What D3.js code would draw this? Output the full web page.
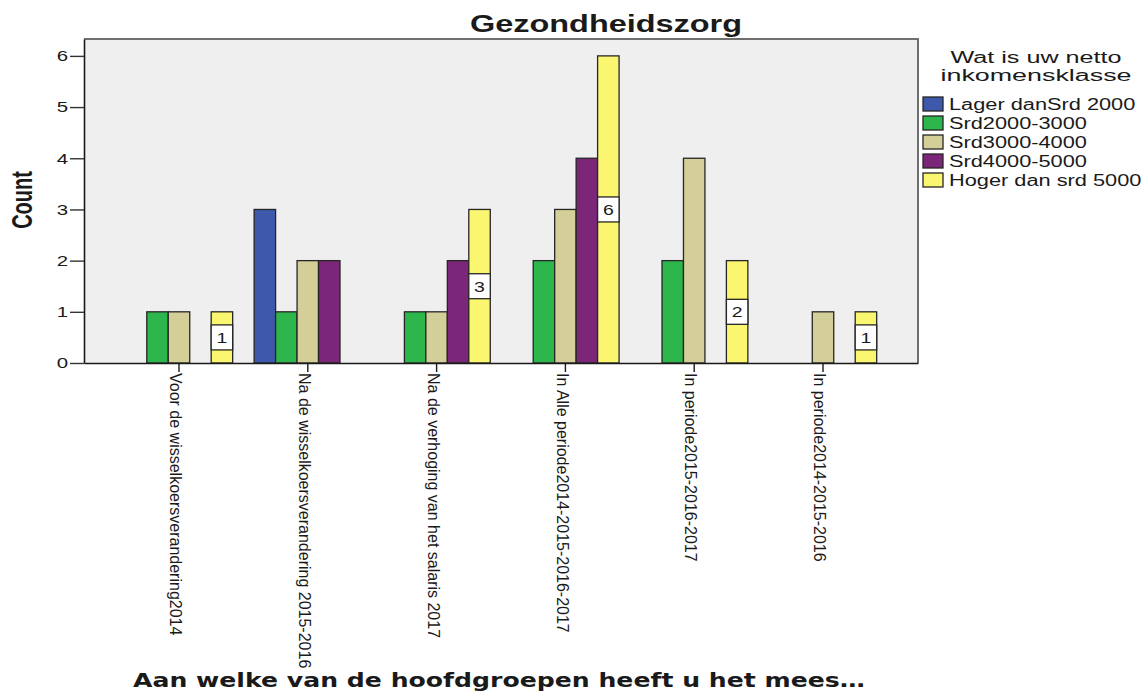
<!DOCTYPE html>
<html>
<head>
<meta charset="utf-8" />
<title>Gezondheidszorg</title>
<style>
  body { margin: 0; background: #fff; }
  svg { display: block; }
  text { font-family: "Liberation Sans", Arial, sans-serif; fill: #1a1a1a; }
  .bar { stroke: #262626; stroke-width: 1.3px; }
</style>
</head>
<body>
<svg width="1142" height="694"></svg>
<script src="https://cdn.jsdelivr.net/npm/d3@7"></script>
<script>

  // categories on the x axis
  var categories = [
    "Voor de wisselkoersverandering2014",
    "Na de wisselkoersverandering 2015-2016",
    "Na de verhoging van het salaris 2017",
    "In Alle periode2014-2015-2016-2017",
    "In periode2015-2016-2017",
    "In periode2014-2015-2016"
  ];

  // legend entries (income classes)
  var seriesNames = ["Lager danSrd 2000", "Srd2000-3000", "Srd3000-4000", "Srd4000-5000", "Hoger dan srd 5000"];

  // counts per income class, one value per category
  var lagerDan2000 = [0, 3, 0, 0, 0, 0];
  var srd2000to3000 = [1, 1, 1, 2, 2, 0];
  var srd3000to4000 = [1, 2, 1, 3, 4, 1];
  var srd4000to5000 = [0, 2, 2, 4, 0, 0];
  var hogerDan5000 = [1, 0, 3, 6, 2, 1];

  var yTicks = [0, 1, 2, 3, 4, 5, 6];

  var seriesValues = [lagerDan2000, srd2000to3000, srd3000to4000, srd4000to5000, hogerDan5000];
  var colors = ["#3e58ac", "#2db64b", "#d4ce98", "#7b2679", "#fbf66f"];

  var svg = d3.select("svg");

  // SPSS output looks horizontally stretched, so text is widened a bit
  function widen(sel, k) {
    sel.attr("lengthAdjust", "spacingAndGlyphs")
      .attr("textLength", function () { return this.getComputedTextLength() * k; });
  }

  // plot area edges (don't use "top" - it clashes with window.top)
  var plotL = 84, plotR = 918, plotT = 39, plotB = 363;

  var x0 = d3.scaleBand()
    .domain(categories)
    .range([plotL, plotR])
    .paddingOuter(0.2375)
    .paddingInner(0);

  var x1 = d3.scaleBand()
    .domain(seriesNames)
    .range([0, x0.bandwidth()])
    .paddingOuter(0.5)
    .paddingInner(0);

  var y = d3.scaleLinear()
    .domain([0, 6.33])
    .range([plotB, plotT]);

  // plot background + frame
  svg.append("rect")
    .attr("x", plotL).attr("y", plotT)
    .attr("width", plotR - plotL).attr("height", plotB - plotT)
    .attr("fill", "#efefef");

  svg.append("path")
    .attr("d", "M" + plotL + "," + plotT + "H" + plotR + "V" + plotB)
    .attr("fill", "none")
    .attr("stroke", "#6e6e6e")
    .attr("stroke-width", 2);

  // build flat list of bars
  var bars = [];
  categories.forEach(function (c, ci) {
    seriesNames.forEach(function (s, si) {
      var v = seriesValues[si][ci];
      if (v > 0) bars.push({ cat: c, series: s, si: si, value: v });
    });
  });

  svg.append("g")
    .selectAll("rect")
    .data(bars)
    .enter()
    .append("rect")
    .attr("class", "bar")
    .attr("x", function (d) { return x0(d.cat) + x1(d.series); })
    .attr("y", function (d) { return y(d.value); })
    .attr("width", x1.bandwidth())
    .attr("height", function (d) { return y(0) - y(d.value); })
    .attr("fill", function (d) { return colors[d.si]; });

  // value labels (only on the last series, as in the output)
  var labelled = bars.filter(function (d) { return d.si === seriesNames.length - 1; });

  var lab = svg.append("g")
    .selectAll("g")
    .data(labelled)
    .enter()
    .append("g")
    .attr("transform", function (d) {
      return "translate(" + (x0(d.cat) + x1(d.series)) + "," + (y(d.value / 2)) + ")";
    });

  lab.append("rect")
    .attr("x", 0)
    .attr("y", -12.5)
    .attr("width", x1.bandwidth())
    .attr("height", 25)
    .attr("fill", "#fff")
    .attr("stroke", "#262626")
    .attr("stroke-width", 1.3);

  lab.append("text")
    .attr("x", x1.bandwidth() / 2)
    .attr("dy", "0.36em")
    .attr("text-anchor", "middle")
    .style("font-size", "15px")
    .text(function (d) { return d.value; })
    .call(widen, 1.3);

  // y axis
  var yAxis = svg.append("g")
    .attr("transform", "translate(" + plotL + ",0)")
    .call(d3.axisLeft(y)
      .tickValues(yTicks)
      .tickFormat(d3.format("d"))
      .tickSize(14)
      .tickSizeOuter(0)
      .tickPadding(2));

  yAxis.select(".domain").attr("stroke", "#1a1a1a").attr("stroke-width", 1.6);
  yAxis.selectAll(".tick line").attr("stroke", "#333").attr("stroke-width", 1.4);
  yAxis.selectAll(".tick text")
    .style("font-size", "15px")
    .attr("fill", "#1a1a1a")
    .call(widen, 1.36);

  // x axis
  var xAxis = svg.append("g")
    .attr("transform", "translate(0," + plotB + ")")
    .call(d3.axisBottom(x0).tickSize(9).tickSizeOuter(0));

  xAxis.select(".domain").attr("stroke", "#1a1a1a").attr("stroke-width", 1.6);
  xAxis.selectAll(".tick line").attr("stroke", "#1a1a1a").attr("stroke-width", 1.4);
  xAxis.selectAll(".tick text")
    .attr("transform", "rotate(90)")
    .attr("x", 10)
    .attr("y", 0)
    .attr("dy", "0.55em")
    .attr("text-anchor", "start")
    .attr("fill", "#1a1a1a")
    .style("font-size", "16px");

  // titles
  svg.append("text")
    .attr("x", 606)
    .attr("y", 32)
    .attr("text-anchor", "middle")
    .style("font-size", "23px")
    .style("font-weight", "bold")
    .attr("lengthAdjust", "spacingAndGlyphs")
    .attr("textLength", 272)
    .text("Gezondheidszorg");

  svg.append("text")
    .attr("transform", "translate(22,200) scale(1.45,1) rotate(-90)")
    .attr("text-anchor", "middle")
    .attr("dy", "0.35em")
    .style("font-size", "20px")
    .style("font-weight", "bold")
    .text("Count");

  svg.append("text")
    .attr("x", 133)
    .attr("y", 687)
    .style("font-family", "'DejaVu Sans', sans-serif")
    .style("font-size", "20px")
    .style("font-weight", "bold")
    .attr("lengthAdjust", "spacingAndGlyphs")
    .attr("textLength", 732)
    .text("Aan welke van de hoofdgroepen heeft u het mees\u2026");

  // legend
  var legend = svg.append("g");

  legend.append("text")
    .attr("x", 1036).attr("y", 63)
    .attr("text-anchor", "middle")
    .style("font-size", "16px")
    .attr("lengthAdjust", "spacingAndGlyphs")
    .attr("textLength", 171)
    .text("Wat is uw netto");

  legend.append("text")
    .attr("x", 1036).attr("y", 81)
    .attr("text-anchor", "middle")
    .style("font-size", "16px")
    .attr("lengthAdjust", "spacingAndGlyphs")
    .attr("textLength", 191)
    .text("inkomensklasse");

  var item = legend.selectAll(".item")
    .data(seriesNames)
    .enter()
    .append("g")
    .attr("class", "item")
    .attr("transform", function (d, i) { return "translate(923," + (104 + i * 19) + ")"; });

  item.append("rect")
    .attr("x", 0).attr("y", -7)
    .attr("width", 20).attr("height", 14)
    .attr("fill", function (d, i) { return colors[i]; })
    .attr("stroke", "#262626")
    .attr("stroke-width", 1.3);

  item.append("text")
    .attr("x", 26)
    .attr("dy", "0.35em")
    .style("font-size", "16px")
    .text(function (d) { return d; })
    .call(widen, 1.36);

</script>
</body>
</html>
